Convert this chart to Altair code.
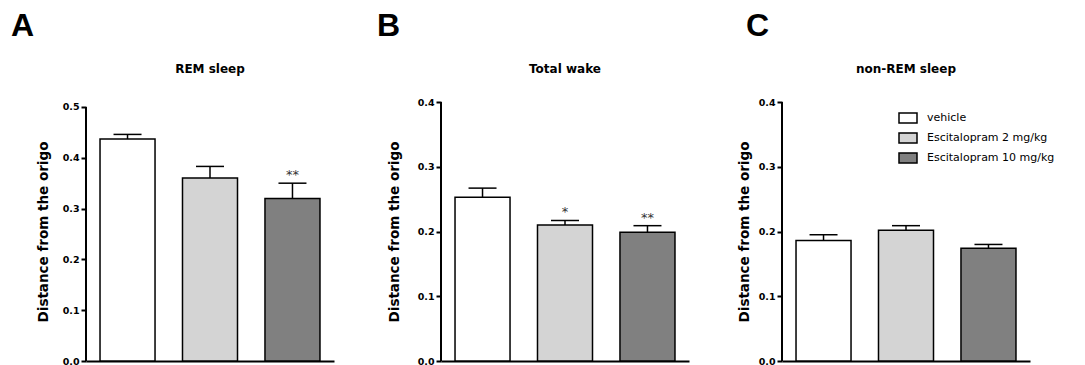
import altair as alt
import pandas as pd

groups = ["vehicle", "Escitalopram 2 mg/kg", "Escitalopram 10 mg/kg"]
colors = ["#ffffff", "#d4d4d4", "#808080"]

panel_letters = ["A", "B", "C"]
panel_titles = ["REM sleep", "Total wake", "non-REM sleep"]
y_title = "Distance from the origo"

rem_mean = [0.437, 0.360, 0.320]
rem_sem = [0.009, 0.023, 0.030]
rem_stars = ["", "", "**"]

wake_mean = [0.253, 0.210, 0.199]
wake_sem = [0.014, 0.007, 0.010]
wake_stars = ["", "*", "**"]

nrem_mean = [0.186, 0.202, 0.174]
nrem_sem = [0.009, 0.007, 0.006]
nrem_stars = ["", "", ""]

y_ticks_a = [0.0, 0.1, 0.2, 0.3, 0.4, 0.5]
y_ticks_bc = [0.0, 0.1, 0.2, 0.3, 0.4]

W, H = 248, 259
FONT = "DejaVu Sans"


def panel(letter, title, mean, sem, stars, ticks, dom_top, letter_x, title_pad, legend):
    df = pd.DataFrame({
        "group": groups,
        "mean": mean,
        "upper": [m + s for m, s in zip(mean, sem)],
        "stars": stars,
    })
    xs = alt.X("group:N", sort=groups,
               scale=alt.Scale(domain=groups, paddingInner=0.333, paddingOuter=0.17),
               axis=alt.Axis(labels=False, ticks=False, title=None, domain=True,
                             domainColor="black", domainWidth=2, grid=False))
    yscale = alt.Scale(domain=[0, dom_top], nice=False, zero=True)
    base = alt.Chart(df)
    bars = base.mark_bar(stroke="black", strokeWidth=1.5, opacity=1).encode(
        x=xs,
        y=alt.Y("mean:Q", scale=yscale,
                axis=alt.Axis(values=ticks, format=".1f", title=y_title, domain=False,
                              grid=False, tickSize=5, tickWidth=2, tickColor="black",
                              labelFont=FONT, labelFontSize=9.5, labelFontWeight="bold",
                              labelColor="black", labelPadding=2,
                              titleFont=FONT, titleFontSize=13.5, titleFontWeight="bold",
                              titleColor="black", titlePadding=title_pad)),
        fill=alt.Fill("group:N", sort=groups,
                      scale=alt.Scale(domain=groups, range=colors),
                      legend=legend),
    )
    stem = base.mark_rule(color="black", strokeWidth=1.5).encode(
        x=xs, y=alt.Y("mean:Q", scale=yscale), y2="upper:Q")
    cap = base.mark_tick(color="black", size=28, thickness=1.5, opacity=1).encode(
        x=xs, y=alt.Y("upper:Q", scale=yscale))
    star = base.mark_text(font=FONT, fontSize=13, fill="#333333", dy=-4,
                          baseline="alphabetic").encode(
        x=xs, y=alt.Y("upper:Q", scale=yscale), text="stars:N")
    yline = alt.Chart(pd.DataFrame({"lo": [0.0], "hi": [ticks[-1]]})).mark_rule(
        color="black", strokeWidth=2).encode(
        x=alt.value(0), y=alt.Y("lo:Q", scale=yscale), y2="hi:Q")
    lab = alt.Chart(pd.DataFrame({"t": [letter]})).mark_text(
        font="Liberation Sans", fontSize=32, fontWeight="bold", fill="black",
        align="left", baseline="alphabetic").encode(
        x=alt.value(letter_x), y=alt.value(-66), text="t:N")
    ttl = alt.Chart(pd.DataFrame({"t": [title]})).mark_text(
        font=FONT, fontSize=12, fontWeight="bold", fill="black",
        align="center", baseline="alphabetic").encode(
        x=alt.value(W / 2), y=alt.value(-29), text="t:N")
    return alt.layer(bars, stem, cap, star, yline, lab, ttl).properties(
        width=W, height=H,
        view=alt.ViewBackground(stroke="transparent", strokeWidth=0))


legend_c = alt.Legend(
    title=None, orient="none", legendX=116, legendY=6,
    symbolType="M-1,-0.56H1V0.56H-1Z", symbolSize=324,
    symbolStrokeColor="black", symbolStrokeWidth=1.5, symbolOpacity=1,
    labelFont=FONT, labelFontSize=11, labelColor="black", labelOffset=9,
    rowPadding=1, labelLimit=300,
)

pa = panel("A", panel_titles[0], rem_mean, rem_sem, rem_stars, y_ticks_a, 0.5098, -75, 12, None)
pb = panel("B", panel_titles[1], wake_mean, wake_sem, wake_stars, y_ticks_bc, 0.4, -64, 16, None)
pc = panel("C", panel_titles[2], nrem_mean, nrem_sem, nrem_stars, y_ticks_bc, 0.4, -36, 7, legend_c)

inner = alt.hconcat(pa, pb, spacing=43).resolve_scale(
    fill="independent", x="independent", y="independent")
chart = alt.hconcat(inner, pc, spacing=48).resolve_scale(
    fill="independent", x="independent", y="independent").properties(
    padding={"left": 11, "top": 10, "right": 0, "bottom": 0},
).configure_view(stroke="transparent", strokeWidth=0).configure(background="white")

chart.save("out.html", embed_options={"renderer": "svg", "actions": False})
